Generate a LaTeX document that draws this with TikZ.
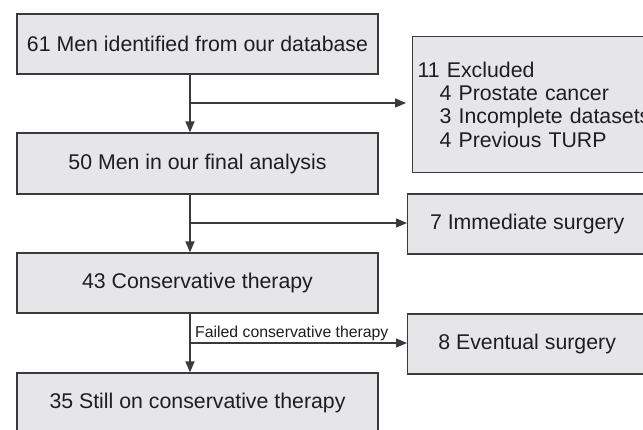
\documentclass[tikz,border=0pt]{standalone}
\usepackage{fontspec}
\setmainfont{Liberation Sans}
\usetikzlibrary{arrows.meta,calc}
\definecolor{boxfill}{HTML}{E6E6E8}
\definecolor{linegray}{HTML}{3A3A3A}
\definecolor{textgray}{HTML}{1E1E1E}
\begin{document}
\begin{tikzpicture}[x=1pt,y=1pt,
  box/.style={draw=linegray, line width=1.3pt, fill=boxfill, text=textgray,
    font=\fontsize{21.3}{23.3}\selectfont, inner sep=0pt, minimum height=60pt},
  flow/.style={draw=linegray, line width=1.3pt, -{Triangle[length=11pt,width=9pt]}},
  smalltext/.style={font=\fontsize{15.8}{18}\selectfont, text=textgray, inner sep=0pt}]
\useasboundingbox (0,0) rectangle (643,-429);
\clip (0,0) rectangle (643,-429);
\fill[white] (0,0) rectangle (643,-429);

\node[box, minimum width=361pt] (b1) at (197.5,-44) {61 Men identified from our database};
\node[box, minimum width=361pt, minimum height=61pt] (b2) at (197.5,-163.5) {50 Men in our final analysis};
\node[box, minimum width=361pt] (b3) at (197.5,-283) {43 Conservative therapy};
\node[box, minimum width=361pt] (b4) at (197.5,-403) {35 Still on conservative therapy};

\node[box, anchor=north west, text width=290pt, inner xsep=5pt, minimum height=136pt, align=left] (ex) at (412,-36)
  {11 Excluded\\
   \hspace*{22pt}4 Prostate cancer\\
   \hspace*{22pt}3 Incomplete datasets\\
   \hspace*{22pt}4 Previous TURP};
\node[box, anchor=west, minimum width=239pt] (im) at (407,-224) {7 Immediate surgery};
\node[box, anchor=west, minimum width=239pt] (ev) at (407,-344) {8 Eventual surgery};

\coordinate (v) at (190,0);
\coordinate (j1) at (190,-103);
\coordinate (j2) at (190,-223);
\coordinate (j3) at (190,-343);

\draw[flow] (b1.south -| v) -- (b2.north -| v);
\draw[flow] (b2.south -| v) -- (b3.north -| v);
\draw[flow] (b3.south -| v) -- (b4.north -| v);

\draw[flow, shorten >=6pt] (j1) -- (ex.west |- j1);
\draw[flow] (j2) -- (im.west |- j2);
\draw[flow] (j3) -- (ev.west |- j3);

\node[smalltext, anchor=base west] (lab) at (195,-337) {Failed conservative therapy};
\end{tikzpicture}
\end{document}
